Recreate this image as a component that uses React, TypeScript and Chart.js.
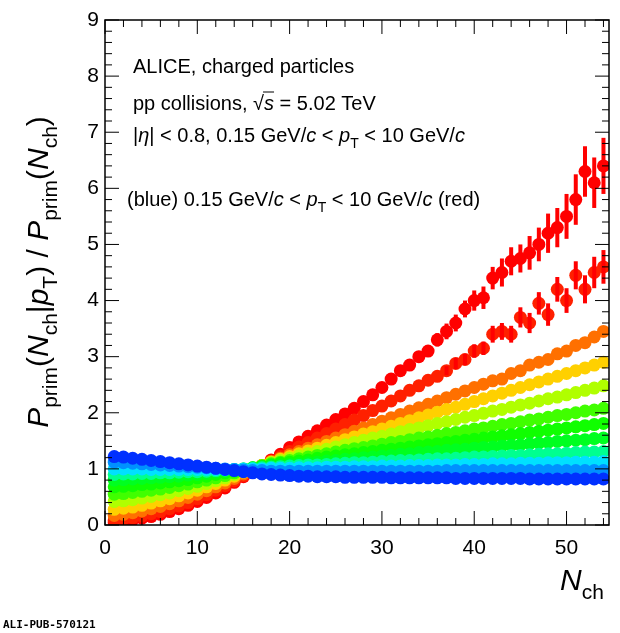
import React, { useEffect, useRef } from 'react'
import Chart from 'chart.js/auto'

const nch = Array.from({ length: 54 }, (_, i) => i + 1)

const seriesColors = ['#0030ff', '#0090ff', '#00e0ff', '#00ff90', '#00ff20', '#10ff00', '#40ff00', '#b0ff00', '#ffd000', '#ff7000', '#ff2000', '#ff0000']

const s0 = [1.22,1.21,1.19,1.17,1.15,1.13,1.11,1.09,1.07,1.05,1.03,1.01,0.99,0.97,0.95,0.93,0.91,0.9,0.89,0.88,0.87,0.87,0.86,0.86,0.86,0.85,0.85,0.85,0.85,0.85,0.84,0.84,0.84,0.84,0.84,0.84,0.84,0.83,0.83,0.83,0.83,0.83,0.83,0.83,0.83,0.82,0.82,0.82,0.82,0.82,0.82,0.82,0.82,0.82]
const s1 = [1.12,1.11,1.1,1.09,1.08,1.07,1.06,1.05,1.04,1.03,1.02,1.01,1.0,0.99,0.98,0.97,0.97,0.96,0.96,0.96,0.96,0.96,0.96,0.96,0.96,0.96,0.96,0.96,0.96,0.96,0.96,0.96,0.96,0.96,0.96,0.96,0.97,0.97,0.97,0.97,0.97,0.97,0.97,0.97,0.97,0.97,0.97,0.97,0.97,0.97,0.97,0.97,0.97,0.97]
const s2 = [1.0,1.0,1.0,1.0,0.99,0.99,0.99,0.99,0.99,0.99,0.99,0.99,0.99,0.99,1.0,1.0,1.0,1.01,1.01,1.01,1.02,1.02,1.02,1.03,1.03,1.03,1.04,1.04,1.04,1.05,1.05,1.05,1.06,1.06,1.06,1.07,1.07,1.07,1.08,1.08,1.08,1.09,1.09,1.09,1.1,1.1,1.1,1.11,1.11,1.11,1.12,1.12,1.12,1.13]
const s3 = [0.9,0.91,0.91,0.92,0.92,0.93,0.93,0.94,0.95,0.95,0.96,0.97,0.98,0.99,1.0,1.01,1.02,1.03,1.04,1.05,1.06,1.07,1.07,1.08,1.09,1.1,1.11,1.11,1.12,1.13,1.14,1.15,1.15,1.16,1.17,1.18,1.18,1.19,1.2,1.21,1.21,1.22,1.23,1.24,1.24,1.25,1.26,1.27,1.27,1.28,1.29,1.3,1.3,1.31]
const s4 = [0.8,0.81,0.82,0.83,0.84,0.85,0.86,0.87,0.89,0.9,0.92,0.94,0.96,0.98,1.0,1.02,1.03,1.05,1.06,1.08,1.09,1.11,1.12,1.14,1.15,1.17,1.18,1.2,1.21,1.23,1.24,1.26,1.27,1.29,1.3,1.31,1.33,1.34,1.35,1.37,1.38,1.39,1.41,1.42,1.43,1.45,1.46,1.47,1.49,1.5,1.51,1.52,1.54,1.55]
const s5 = [0.68,0.69,0.7,0.72,0.73,0.75,0.77,0.79,0.81,0.84,0.87,0.9,0.93,0.96,0.99,1.02,1.05,1.07,1.1,1.12,1.14,1.16,1.19,1.21,1.23,1.25,1.27,1.29,1.31,1.33,1.35,1.37,1.39,1.41,1.43,1.45,1.47,1.49,1.51,1.53,1.55,1.57,1.59,1.61,1.63,1.65,1.67,1.69,1.71,1.73,1.75,1.77,1.79,1.81]
const s6 = [0.55,0.56,0.58,0.6,0.62,0.64,0.67,0.7,0.73,0.77,0.8,0.84,0.88,0.93,0.97,1.01,1.05,1.09,1.12,1.15,1.18,1.21,1.24,1.27,1.3,1.33,1.36,1.38,1.41,1.44,1.47,1.49,1.52,1.55,1.57,1.6,1.63,1.65,1.68,1.71,1.73,1.76,1.79,1.81,1.84,1.87,1.89,1.92,1.95,1.97,2.0,2.03,2.05,2.08]
const s7 = [0.42,0.43,0.45,0.48,0.51,0.54,0.57,0.61,0.65,0.69,0.74,0.79,0.84,0.9,0.96,1.01,1.06,1.11,1.15,1.19,1.23,1.27,1.31,1.35,1.39,1.43,1.47,1.51,1.55,1.58,1.62,1.66,1.7,1.73,1.77,1.81,1.84,1.88,1.92,1.95,1.99,2.03,2.06,2.1,2.14,2.17,2.21,2.25,2.28,2.32,2.36,2.4,2.44,2.48]
const s8 = [0.28,0.3,0.32,0.35,0.39,0.43,0.47,0.52,0.57,0.62,0.68,0.74,0.8,0.87,0.94,1.0,1.06,1.12,1.17,1.22,1.27,1.32,1.37,1.42,1.47,1.52,1.57,1.62,1.66,1.71,1.76,1.81,1.86,1.91,1.96,2.01,2.06,2.1,2.15,2.2,2.25,2.3,2.35,2.4,2.45,2.5,2.55,2.6,2.65,2.7,2.75,2.8,2.85,2.9]
const s9 = [0.17,0.19,0.22,0.25,0.29,0.33,0.38,0.43,0.49,0.55,0.61,0.68,0.75,0.83,0.91,0.99,1.06,1.13,1.19,1.25,1.31,1.37,1.43,1.49,1.55,1.61,1.67,1.73,1.79,1.85,1.91,1.97,2.03,2.09,2.15,2.21,2.27,2.33,2.39,2.45,2.51,2.57,2.6,2.7,2.75,2.85,2.9,2.95,3.05,3.1,3.2,3.25,3.35,3.45]
const s10 = [0.09,0.11,0.13,0.16,0.2,0.24,0.29,0.34,0.4,0.47,0.54,0.62,0.7,0.79,0.88,0.97,1.06,1.14,1.22,1.31,1.39,1.47,1.55,1.63,1.71,1.79,1.87,1.95,2.04,2.12,2.21,2.3,2.4,2.48,2.58,2.65,2.75,2.88,2.95,3.1,3.15,3.4,3.45,3.4,3.7,3.6,3.95,3.75,4.2,4.0,4.45,4.2,4.5,4.6]
const s11 = [0.05,0.07,0.09,0.12,0.15,0.19,0.24,0.29,0.35,0.42,0.49,0.57,0.66,0.76,0.86,0.97,1.06,1.16,1.26,1.38,1.48,1.58,1.68,1.78,1.88,1.98,2.08,2.2,2.32,2.45,2.6,2.75,2.85,3.0,3.1,3.3,3.45,3.6,3.85,4.0,4.05,4.4,4.5,4.7,4.75,4.85,5.0,5.2,5.3,5.5,5.8,6.3,6.1,6.4]
const seriesValues = [s0, s1, s2, s3, s4, s5, s6, s7, s8, s9, s10, s11]

const err10 = [0,0,0,0,0,0,0,0,0,0,0,0,0,0,0,0,0,0,0,0,0,0,0,0,0,0,0,0,0,0,0,0,0,0,0,0,0.08,0.1,0.1,0.12,0.12,0.15,0.15,0.15,0.18,0.18,0.2,0.2,0.22,0.22,0.25,0.25,0.28,0.3]
const err11 = [0,0,0,0,0,0,0,0,0,0,0,0,0,0,0,0,0,0,0,0,0,0,0,0,0,0,0,0,0,0,0,0,0,0,0.1,0.12,0.14,0.15,0.15,0.18,0.2,0.2,0.25,0.25,0.25,0.3,0.3,0.35,0.35,0.4,0.45,0.45,0.45,0.5]
const seriesErrors: Record<number, number[]> = { 10: err10, 11: err11 }

type Seg = { t: string; it?: boolean; sub?: boolean }

const drawRich = (ctx: CanvasRenderingContext2D, segs: Seg[], x: number, y: number, size: number) => {
  let cx = x
  segs.forEach((s) => {
    const fs = s.sub ? size * 0.7 : size
    ctx.font = `${s.it ? 'italic ' : ''}${fs}px "Liberation Sans", Arial, sans-serif`
    ctx.fillText(s.t, cx, s.sub ? y + size * 0.3 : y)
    cx += ctx.measureText(s.t).width
  })
  return cx - x
}

const overlay = {
  id: 'overlay',
  afterDatasetsDraw(chart: any) {
    const ctx = chart.ctx as CanvasRenderingContext2D
    const { left, right, top, bottom } = chart.chartArea
    const xs = chart.scales.x
    const ys = chart.scales.y
    ctx.save()
    // error bars
    ctx.strokeStyle = '#ff0000'
    ctx.lineWidth = 4
    Object.keys(seriesErrors).forEach((k) => {
      const idx = Number(k)
      seriesErrors[idx].forEach((e, i) => {
        if (!e) return
        const px = xs.getPixelForValue(nch[i])
        ctx.beginPath()
        ctx.moveTo(px, ys.getPixelForValue(seriesValues[idx][i] - e))
        ctx.lineTo(px, ys.getPixelForValue(seriesValues[idx][i] + e))
        ctx.stroke()
      })
    })
    // frame and ticks
    ctx.strokeStyle = '#000'
    ctx.lineWidth = 1.5
    ctx.strokeRect(left, top, right - left, bottom - top)
    ctx.lineWidth = 1
    ctx.beginPath()
    for (let v = 0; v <= 54; v += 2) {
      const px = xs.getPixelForValue(v)
      const len = v % 10 === 0 ? 14 : 7
      ctx.moveTo(px, bottom); ctx.lineTo(px, bottom - len)
      ctx.moveTo(px, top); ctx.lineTo(px, top + len)
    }
    for (let v = 0; v <= 90; v += 2) {
      const py = ys.getPixelForValue(v / 10)
      const len = v % 10 === 0 ? 14 : 7
      ctx.moveTo(left, py); ctx.lineTo(left + len, py)
      ctx.moveTo(right, py); ctx.lineTo(right - len, py)
    }
    ctx.stroke()
    // tick labels
    ctx.fillStyle = '#000'
    ctx.font = '21px "Liberation Sans", Arial, sans-serif'
    ctx.textAlign = 'center'
    ctx.textBaseline = 'alphabetic'
    for (let v = 0; v <= 50; v += 10) ctx.fillText(String(v), xs.getPixelForValue(v), bottom + 29)
    ctx.textAlign = 'right'
    ctx.textBaseline = 'middle'
    for (let v = 0; v <= 9; v++) ctx.fillText(String(v), left - 6, ys.getPixelForValue(v))
    ctx.textAlign = 'left'
    ctx.textBaseline = 'alphabetic'
    // annotations
    drawRich(ctx, [{ t: 'ALICE, charged particles' }], 133, 73, 20)
    const w = drawRich(ctx, [{ t: 'pp collisions, ' }], 133, 110, 20)
    ctx.font = '20px "Liberation Sans", Arial, sans-serif'
    const sx = 133 + w
    ctx.fillText('\u221A', sx, 110)
    const rw = ctx.measureText('\u221A').width
    ctx.beginPath(); ctx.moveTo(sx + rw - 1, 92); ctx.lineTo(sx + rw + 10, 92); ctx.stroke()
    drawRich(ctx, [{ t: 's', it: true }, { t: ' = 5.02 TeV' }], sx + rw, 110, 20)
    drawRich(ctx, [{ t: '|' }, { t: '\u03B7', it: true }, { t: '| < 0.8, 0.15 GeV/' }, { t: 'c', it: true }, { t: ' < ' }, { t: 'p', it: true }, { t: 'T', sub: true }, { t: ' < 10 GeV/' }, { t: 'c', it: true }], 133, 142, 20)
    drawRich(ctx, [{ t: '(blue) 0.15 GeV/' }, { t: 'c', it: true }, { t: ' < ' }, { t: 'p', it: true }, { t: 'T', sub: true }, { t: ' < 10 GeV/' }, { t: 'c', it: true }, { t: ' (red)' }], 127, 206, 20)
    // x title
    const xt: Seg[] = [{ t: 'N', it: true }, { t: 'ch', sub: true }]
    drawRich(ctx, xt, 560, 590, 30)
    // y title
    ctx.save()
    ctx.translate(48, 272)
    ctx.rotate(-Math.PI / 2)
    const yt: Seg[] = [{ t: 'P', it: true }, { t: 'prim', sub: true }, { t: '(' }, { t: 'N', it: true }, { t: 'ch', sub: true }, { t: '|' }, { t: 'p', it: true }, { t: 'T', sub: true }, { t: ') / ' }, { t: 'P', it: true }, { t: 'prim', sub: true }, { t: '(' }, { t: 'N', it: true }, { t: 'ch', sub: true }, { t: ')' }]
    const tw = drawRich(ctx, yt, 0, -1000, 30)
    ctx.clearRect(-10, -1040, tw + 20, 60)
    drawRich(ctx, yt, -tw / 2, 0, 30)
    ctx.restore()
    ctx.font = 'bold 11px "DejaVu Sans Mono", monospace'
    ctx.fillText('ALI-PUB-570121', 3, 628)
    ctx.restore()
  }
}

const App: React.FC = () => {
  const canvasRef = useRef<HTMLCanvasElement | null>(null)

  useEffect(() => {
    if (!canvasRef.current) return
    const chart = new Chart(canvasRef.current, {
      type: 'scatter',
      data: {
        datasets: seriesValues.map((vals, k) => ({
          data: vals.map((v, i) => ({ x: nch[i], y: v })),
          backgroundColor: seriesColors[k],
          borderWidth: 0,
          pointRadius: 6.5,
          pointHoverRadius: 6.5
        }))
      },
      options: {
        responsive: false,
        animation: false,
        layout: { padding: { left: 105, right: 11, top: 20, bottom: 108 } },
        plugins: { legend: { display: false }, tooltip: { enabled: false } },
        scales: {
          x: { type: 'linear', min: 0, max: 54.6, display: false },
          y: { type: 'linear', min: 0, max: 9, display: false }
        }
      },
      plugins: [overlay]
    })
    return () => chart.destroy()
  }, [])

  return (
    <div style={{ position: 'fixed', left: 0, top: 0, width: 620, height: 633, background: '#fff' }}>
      <canvas ref={canvasRef} width={620} height={633} />
    </div>
  )
}

export default App
